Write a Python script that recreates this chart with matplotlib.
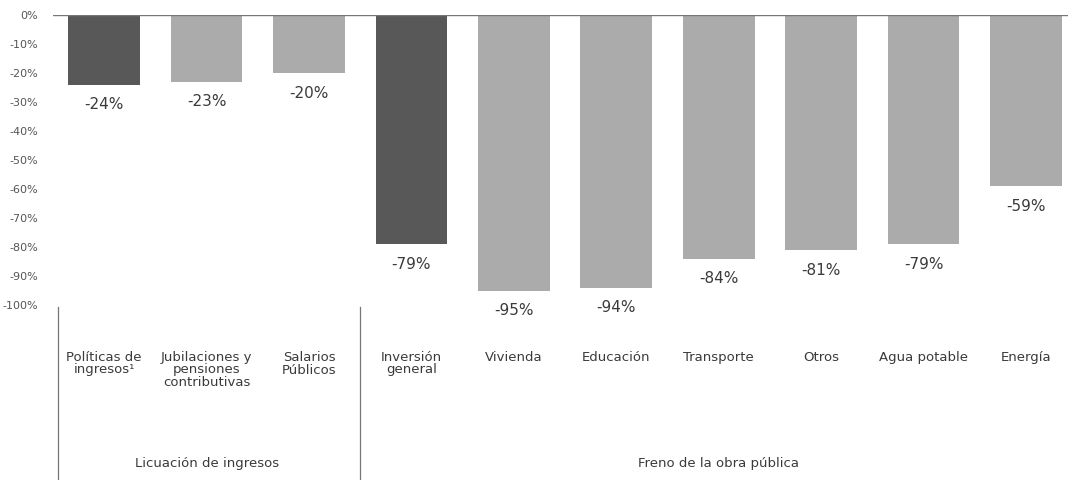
import matplotlib
matplotlib.use("Agg")
import matplotlib.pyplot as plt
import matplotlib.transforms as mtransforms

plt.rcParams['font.family'] = ['DejaVu Sans']

categories = ["Políticas de\ningresos¹", "Jubilaciones y\npensiones\ncontributivas",
              "Salarios\nPúblicos", "Inversión\ngeneral", "Vivienda", "Educación",
              "Transporte", "Otros", "Agua potable", "Energía"]
values = [-24, -23, -20, -79, -95, -94, -84, -81, -79, -59]
highlight = [True, False, False, True, False, False, False, False, False, False]
groups = ["Licuación de ingresos", "Freno de la obra pública"]
group_members = [[0, 1, 2], [3, 4, 5, 6, 7, 8, 9]]
yticks = [0, -10, -20, -30, -40, -50, -60, -70, -80, -90, -100]
ytick_labels = ["0%", "-10%", "-20%", "-30%", "-40%", "-50%", "-60%", "-70%",
                "-80%", "-90%", "-100%"]

dark = "#585858"
light = "#ababab"
text_col = "#3a3a3a"

W, H = 1068, 480
fig = plt.figure(figsize=(W / 100, H / 100), dpi=100)
ax = fig.add_axes([53 / W, (H - 305) / H, 1 - 53 / W, 290 / H])

x = list(range(len(categories)))
colors = [dark if h else light for h in highlight]
ax.bar(x, values, width=0.70, color=colors, edgecolor="none", zorder=2)

ax.set_xlim(-0.5, 9.41)
ax.set_ylim(-100, 0)
ax.axhline(0, color="#777777", lw=1.0, zorder=3)

for spine in ax.spines.values():
    spine.set_visible(False)
ax.set_xticks([])
ax.set_yticks(yticks)
ax.set_yticklabels(ytick_labels, fontsize=8, color="#555555")
ax.tick_params(axis="y", length=0, pad=11)

for xi, v in zip(x, values):
    ax.annotate(f"{v}%", xy=(xi, v), xytext=(0, -14.5), textcoords="offset points",
                ha="center", va="center", fontsize=11, color=text_col,
                annotation_clip=False)

trans = mtransforms.blended_transform_factory(ax.transData, fig.transFigure)
for xi, c in zip(x, categories):
    ax.text(xi, (H - 351) / H, c, transform=trans, ha="center", va="top",
            fontsize=9.5, color=text_col, linespacing=0.95, clip_on=False)

for g, members in zip(groups, group_members):
    cx = (members[0] + members[-1]) / 2
    ax.text(cx, (H - 463) / H, g, transform=trans, ha="center", va="center",
            fontsize=9.5, color=text_col, clip_on=False)

for sx in [-0.45, 2.5]:
    ax.plot([sx, sx], [(H - 307) / H, 0], transform=trans, color="#777777",
            lw=0.9, clip_on=False)

fig.savefig("out.png", dpi=100)
